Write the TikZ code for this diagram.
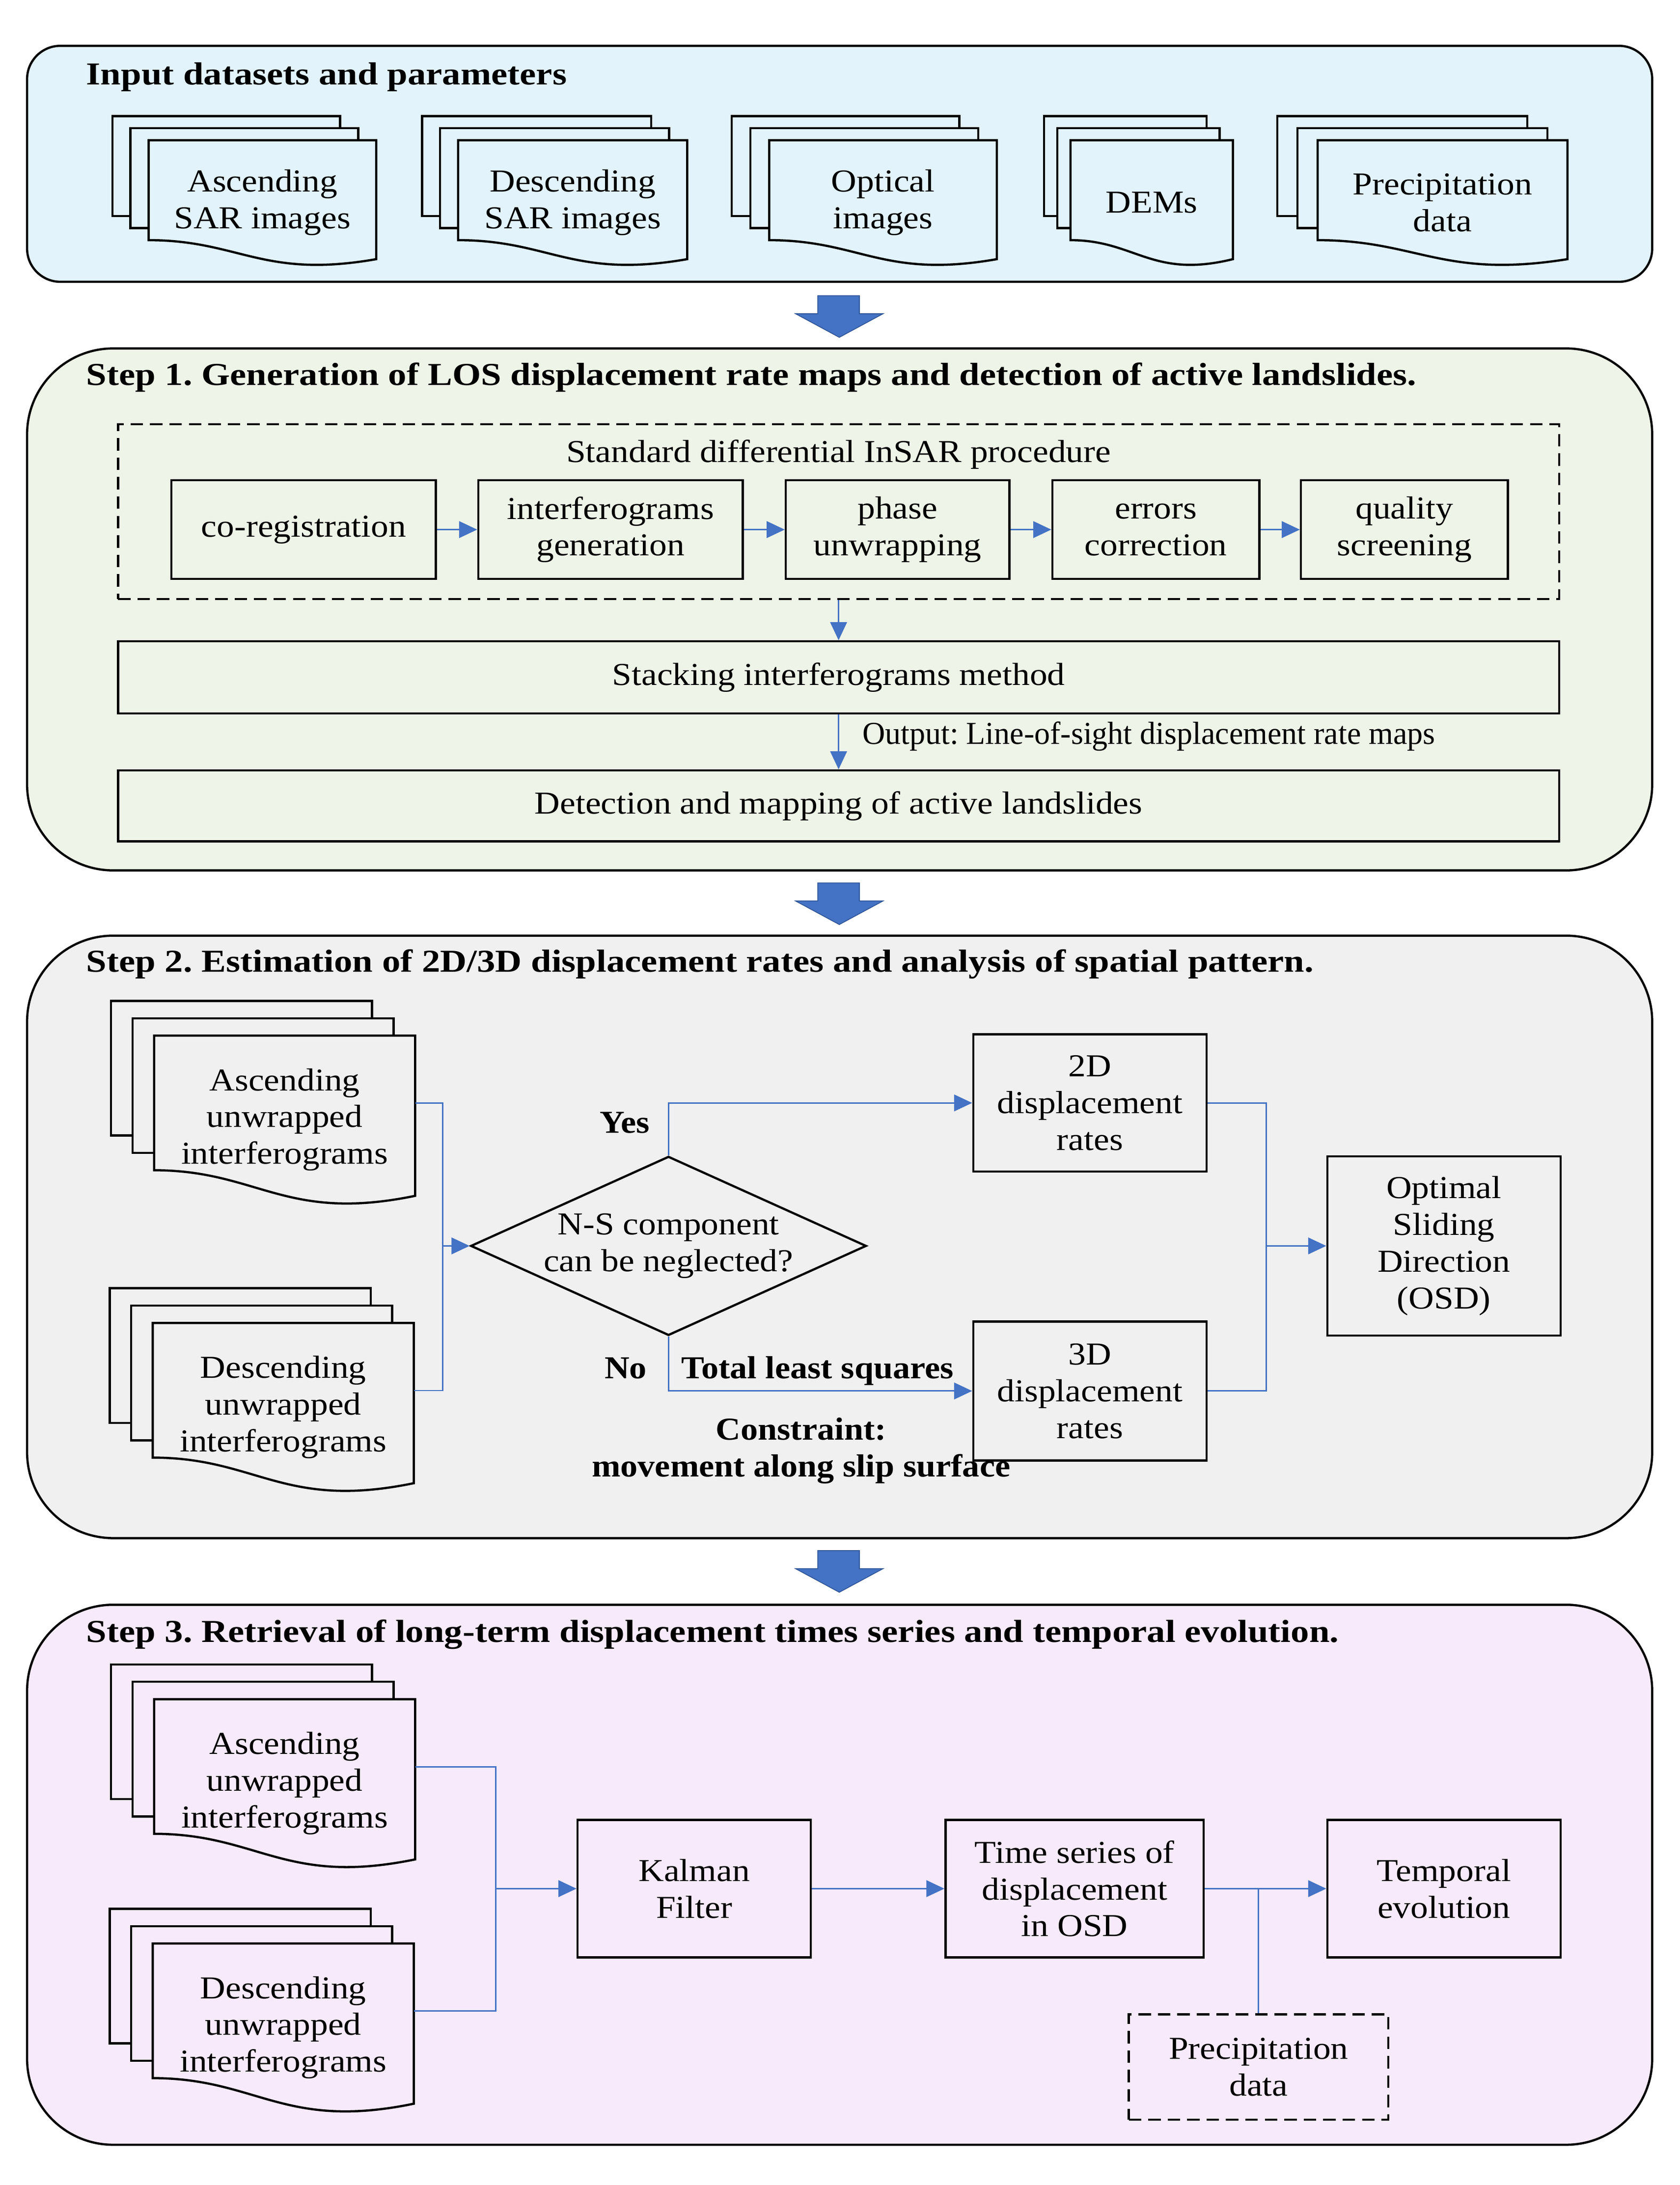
\documentclass[tikz,border=0pt]{standalone}
\usepackage{fontspec}
\setmainfont{Liberation Serif}[FakeStretch=1.1, BoldFeatures={FakeStretch=1.15}]
\newfontfamily\notefont{Liberation Serif}[BoldFeatures={FakeStretch=1.08}]
\usetikzlibrary{arrows.meta,shapes.geometric}
\frenchspacing

\definecolor{inblue}{HTML}{E2F3FB}
\definecolor{stepgreen}{HTML}{EEF4E7}
\definecolor{stepgray}{HTML}{F0F0F0}
\definecolor{steppink}{HTML}{F7EAFA}
\definecolor{linkblue}{HTML}{4472C4}
\definecolor{arrowedge}{HTML}{2F5597}

\tikzset{
  panel/.style={draw, line width=1.6pt, fill=#1},
  page/.style={draw, line width=1.6pt, fill=#1},
  doc/.style={inner sep=0pt, align=center, anchor=north},
  box/.style={draw, line width=1.6pt, inner sep=0pt, align=center},
  dashbox/.style={box, dash pattern=on 9pt off 5pt},
  link/.style={draw=linkblue, line width=1pt, -{Triangle[length=13pt,width=12pt]}},
  wire/.style={draw=linkblue, line width=1pt},
  bigarrow/.style={fill=linkblue, draw=arrowedge, line width=0.6pt},
  paneltitle/.style={font=\fontsize{23}{26.5}\selectfont\bfseries, anchor=base west, inner sep=0pt},
  note/.style={font=\fontsize{23}{26.5}\selectfont\notefont\bfseries, inner sep=0pt},
}

% stack of pages: name, x, y, width, height, fill, dx, dy, text
\newcommand{\pagestack}[9]{%
  \draw[page=#6] ({#2-2*#7},{#3-2*#8}) rectangle ++(#4,#5);
  \draw[page=#6] ({#2-#7},{#3-#8}) rectangle ++(#4,#5);
  \draw[page=#6] (#2,#3) -- ({#2+#4},#3) -- ({#2+#4},{#3+1.19*#5})
    .. controls ({#2+0.5*#4},{#3+1.39*#5}) and ({#2+0.4*#4},{#3+#5}) .. (#2,{#3+#5}) -- cycle;
  \node[doc, minimum width=#4pt, minimum height={1.245*#5pt}] (#1) at ({#2+0.5*#4},#3) {#9};
}

\begin{document}
\begin{tikzpicture}[x=1pt, y=-1pt, every node/.style={font=\fontsize{23}{26.5}\selectfont}]
\useasboundingbox (0,0) rectangle (1210,1574);
% input datasets
\draw[panel=inblue, rounded corners=24pt] (19.5,33) rectangle (1190,203);
\node[paneltitle] (t0) at (62,61) {Input datasets and parameters};
\pagestack{sar1}{107}{101}{164}{72}{inblue}{13}{8.7}{Ascending\\SAR images}
\pagestack{sar2}{330}{101}{165}{72}{inblue}{13}{8.7}{Descending\\SAR images}
\pagestack{opt}{554}{101}{164}{72}{inblue}{13.5}{8.7}{Optical\\images}
\pagestack{dem}{771}{101}{117}{72}{inblue}{9.5}{8.7}{DEMs}
\pagestack{pre1}{949}{101}{180}{72}{inblue}{14.5}{8.7}{Precipitation\\data}
% arrows between panels
\draw[bigarrow] (589,213) -- (619,213) -- (619,226) -- (636,226) -- (604.5,243) -- (573,226) -- (589,226) -- cycle;
\draw[bigarrow] (589,636) -- (619,636) -- (619,649) -- (636,649) -- (604.5,666) -- (573,649) -- (589,649) -- cycle;
\draw[bigarrow] (589,1117) -- (619,1117) -- (619,1130) -- (636,1130) -- (604.5,1147) -- (573,1130) -- (589,1130) -- cycle;
% step 1
\draw[panel=stepgreen, rounded corners=62pt] (19.5,251) rectangle (1190,627);
\node[paneltitle] (t1) at (62,277.5) {Step 1. Generation of LOS displacement rate maps and detection of active landslides.};
\node[dashbox, minimum width=1038pt, minimum height=126pt] (insar) at (604,368.6) {};
\node[inner sep=0pt, anchor=base] (insarlbl) at (604,333) {Standard differential InSAR procedure};
\node[box, minimum width=190.5pt, minimum height=71pt] (coreg) at (218.75,381.5) {co-registration};
\node[box, minimum width=190.5pt, minimum height=71pt] (ifg) at (439.75,381.5) {interferograms\\generation};
\node[box, minimum width=161pt, minimum height=71pt] (unw) at (646.5,381.5) {phase\\unwrapping};
\node[box, minimum width=149pt, minimum height=71pt] (err) at (832.5,381.5) {errors\\correction};
\node[box, minimum width=149pt, minimum height=71pt] (qual) at (1011.5,381.5) {quality\\screening};
\draw[link] (coreg) -- (ifg);
\draw[link] (ifg) -- (unw);
\draw[link] (unw) -- (err);
\draw[link] (err) -- (qual);
\node[box, minimum width=1038pt, minimum height=52pt] (stack) at (604,488) {Stacking interferograms method};
\node[box, minimum width=1038pt, minimum height=51pt] (detect) at (604,580.5) {Detection and mapping of active landslides};
\draw[link] (insar.south) -- (stack.north);
\draw[link] (stack.south) -- (detect.north);
\node[inner sep=0pt, anchor=base west] (outlbl) at (621,536) {\scalebox{0.895}[1]{Output: Line-of-sight displacement rate maps}};
% step 2
\draw[panel=stepgray, rounded corners=62pt] (19.5,674) rectangle (1190,1108);
\node[paneltitle] (t2) at (62,700) {Step 2. Estimation of 2D/3D displacement rates and analysis of spatial pattern.};
\pagestack{asc2}{111}{746}{188}{97}{stepgray}{15.5}{12.5}{Ascending\\unwrapped\\interferograms}
\pagestack{desc2}{110}{953}{188}{97}{stepgray}{15.5}{12.5}{Descending\\unwrapped\\interferograms}
\node[draw, diamond, line width=1.6pt, aspect=2.21, inner sep=0pt, minimum width=285pt, minimum height=129pt, align=center] (ns) at (481.5,897.5) {N-S component\\can be neglected?};
\node[box, minimum width=168pt, minimum height=99pt] (r2d) at (785,794.5) {2D\\displacement\\rates};
\node[box, minimum width=168pt, minimum height=100pt] (r3d) at (785,1002) {3D\\displacement\\rates};
\node[box, minimum width=168pt, minimum height=129pt] (osd) at (1040,897.5) {Optimal\\Sliding\\Direction\\(OSD)};
\coordinate (m2) at (319,897.5);
\coordinate (m3) at (912,897.5);
\draw[wire] ([yshift=11.9pt]asc2.east) -| (m2);
\draw[wire] ([yshift=11.9pt]desc2.east) -| (m2);
\draw[link] (m2) -- (ns.west);
\draw[link] (ns.north) |- (r2d.west);
\draw[link] (ns.south) |- (r3d.west);
\draw[wire] (r2d.east) -| (m3);
\draw[wire] (r3d.east) -| (m3);
\draw[link] (m3) -- (osd.west);
\node[note, anchor=base east] (yes) at (468,816) {Yes};
\node[note, anchor=base east] (no) at (466,993) {No};
\node[note, anchor=base west] (tls) at (490.6,993) {Total least squares};
\node[note, align=center] (cons) at (577,1045) {Constraint:\\movement along slip surface};
% step 3
\draw[panel=steppink, rounded corners=62pt] (19.5,1156) rectangle (1190,1545);
\node[paneltitle] (t3) at (62,1183) {Step 3. Retrieval of long-term displacement times series and temporal evolution.};
\pagestack{asc3}{111}{1224}{188}{97}{steppink}{15.5}{12.5}{Ascending\\unwrapped\\interferograms}
\pagestack{desc3}{110}{1400}{188}{97}{steppink}{15.5}{12.5}{Descending\\unwrapped\\interferograms}
\node[box, minimum width=168pt, minimum height=99pt] (kal) at (500,1360.5) {Kalman\\Filter};
\node[box, minimum width=186pt, minimum height=99pt] (ts) at (774,1360.5) {Time series of\\displacement\\in OSD};
\node[box, minimum width=168pt, minimum height=99pt] (evo) at (1040,1360.5) {Temporal\\evolution};
\node[dashbox, minimum width=187pt, minimum height=76pt] (pre2) at (906.5,1489) {Precipitation\\data};
\coordinate (m4) at (357,1360.5);
\draw[wire] ([yshift=11.9pt]asc3.east) -| (m4);
\draw[wire] ([yshift=11.9pt]desc3.east) -| (m4);
\draw[link] (m4) -- (kal.west);
\draw[link] (kal) -- (ts);
\draw[link] (ts) -- (evo);
\draw[wire] (pre2.north) -- (pre2.north |- ts.east);
\end{tikzpicture}
\end{document}
